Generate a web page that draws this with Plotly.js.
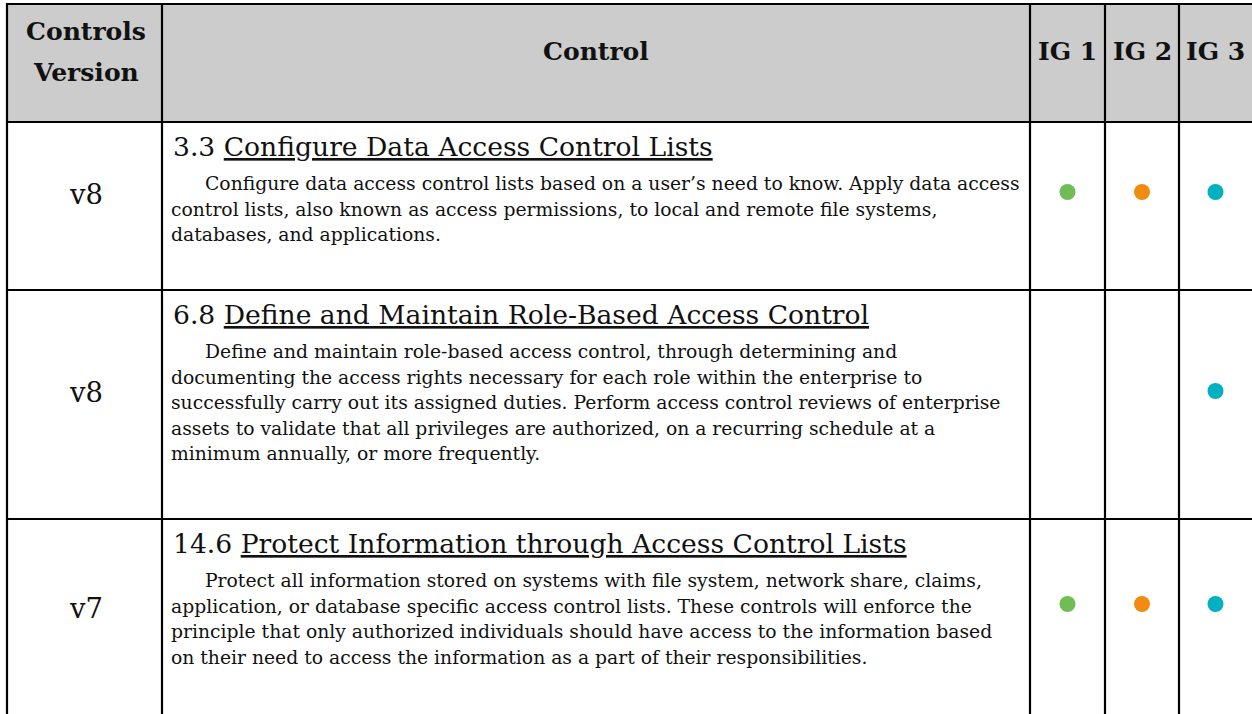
<!DOCTYPE html>
<html><head><meta charset="utf-8">
<script src="https://cdn.plot.ly/plotly-3.0.1.min.js"></script>
<style>html,body{margin:0;padding:0;background:#fff;overflow:hidden;}</style>
</head><body><div id="chart" style="width:1252px;height:714px;"></div>
<script>
// ---------------- data ----------------
const versionHeader = ["Controls", "Version"];
const controlHeader = "Control";
const igHeaders = ["IG 1", "IG 2", "IG 3"];
const versions = ["v8", "v8", "v7"];
const controlIds = ["3.3", "6.8", "14.6"];
const controlTitles = [
  "Configure Data Access Control Lists",
  "Define and Maintain Role-Based Access Control",
  "Protect Information through Access Control Lists"
];
const desc1 = [
  "Configure data access control lists based on a user’s need to know. Apply data access",
  "control lists, also known as access permissions, to local and remote file systems,",
  "databases, and applications."
];
const desc2 = [
  "Define and maintain role-based access control, through determining and",
  "documenting the access rights necessary for each role within the enterprise to",
  "successfully carry out its assigned duties. Perform access control reviews of enterprise",
  "assets to validate that all privileges are authorized, on a recurring schedule at a",
  "minimum annually, or more frequently."
];
const desc3 = [
  "Protect all information stored on systems with file system, network share, claims,",
  "application, or database specific access control lists. These controls will enforce the",
  "principle that only authorized individuals should have access to the information based",
  "on their need to access the information as a part of their responsibilities."
];
const ig1 = [true, false, true];
const ig2 = [true, false, true];
const ig3 = [true, true, true];
const igColors = ["#6fbe55", "#f28b12", "#00b1c2"];

// ---------------- layout geometry ----------------
const W = 1252, H = 714;
const colX = [7, 162, 1030, 1105, 1179, 1252];
const rowY = [4, 122, 290, 519, 714];
const FONT = '"DejaVu Serif", "Liberation Serif", serif';
const descs = [desc1, desc2, desc3];
const igFlags = [ig1, ig2, ig3];

const cv = document.createElement('canvas').getContext('2d');
function fit(text, weight, target) {
  cv.font = weight + ' 100px "DejaVu Serif"';
  const w = cv.measureText(text).width;
  return w > 0 ? 100 * target / w : 18;
}
const bodySize = fit(desc1[0], 'normal', 815);
const titleSize = fit(controlIds[0] + ' ' + controlTitles[0], 'normal', 540);
const headSize = fit(versionHeader[0], 'bold', 120);
const verSize = fit(versions[0], 'normal', 33);

const MID = 0.346; // baseline -> box middle (em)
const textColor = '#111';
const annotations = [];
function addText(text, x, y, size, xanchor, bold) {
  annotations.push({
    text: bold ? '<b>' + text + '</b>' : text,
    x: x, y: y, xref: 'x', yref: 'y',
    xanchor: xanchor, yanchor: 'middle', showarrow: false,
    font: {family: FONT, size: size, color: textColor},
    borderpad: 0
  });
}

// header
const c0 = (colX[0] + colX[1]) / 2 + 1;
addText(versionHeader[0], c0, 31, headSize, 'center', true);
addText(versionHeader[1], c0, 72, headSize, 'center', true);
addText(controlHeader, (colX[1] + colX[2]) / 2, 51, headSize, 'center', true);
igHeaders.forEach((h, i) => addText(h, (colX[2 + i] + colX[3 + i]) / 2, 51, headSize, 'center', true));

// rows
const versionY = [194, 392, 608];
const dotY = [192, 391, 604];
const textLeft = 170, indent = 34, lineGap = 25.5;
for (let r = 0; r < 3; r++) {
  addText(versions[r], c0, versionY[r], verSize, 'center', false);
  const titleBase = rowY[r + 1] + 34;
  addText(controlIds[r] + ' <u>' + controlTitles[r] + '</u>', textLeft + 2, titleBase - MID * titleSize, titleSize, 'left', false);
  descs[r].forEach((ln, k) => {
    const base = titleBase + 34 + k * lineGap;
    addText(ln, textLeft + (k === 0 ? indent : 0), base - MID * bodySize, bodySize, 'left', false);
  });
}

// shapes
const shapes = [];
shapes.push({type: 'rect', xref: 'x', yref: 'y', x0: colX[0], x1: W, y0: rowY[0], y1: rowY[1],
  fillcolor: '#cccccc', line: {width: 0}, layer: 'below'});
rowY.slice(0, 4).forEach(y => shapes.push({type: 'line', xref: 'x', yref: 'y', x0: colX[0] - 1, x1: W, y0: y, y1: y,
  line: {color: '#000', width: 2.2}}));
colX.slice(0, 5).forEach(x => shapes.push({type: 'line', xref: 'x', yref: 'y', x0: x, x1: x, y0: rowY[0] - 1, y1: H,
  line: {color: '#000', width: 2.2}}));

// dots
const traces = igFlags.map((flags, i) => {
  const cx = (colX[2 + i] + colX[3 + i]) / 2;
  const xs = [], ys = [];
  flags.forEach((f, r) => { if (f) { xs.push(cx); ys.push(dotY[r]); } });
  return {type: 'scatter', mode: 'markers', x: xs, y: ys, cliponaxis: false, hoverinfo: 'skip',
    marker: {size: 16, color: igColors[i], line: {width: 0}}};
});

Plotly.newPlot('chart', traces, {
  width: W, height: H, margin: {l: 0, r: 0, t: 0, b: 0},
  paper_bgcolor: '#fff', plot_bgcolor: '#fff', showlegend: false,
  xaxis: {range: [0, W], visible: false, fixedrange: true},
  yaxis: {range: [H, 0], visible: false, fixedrange: true},
  shapes: shapes, annotations: annotations
}, {staticPlot: true, displayModeBar: false});
</script></body></html>
